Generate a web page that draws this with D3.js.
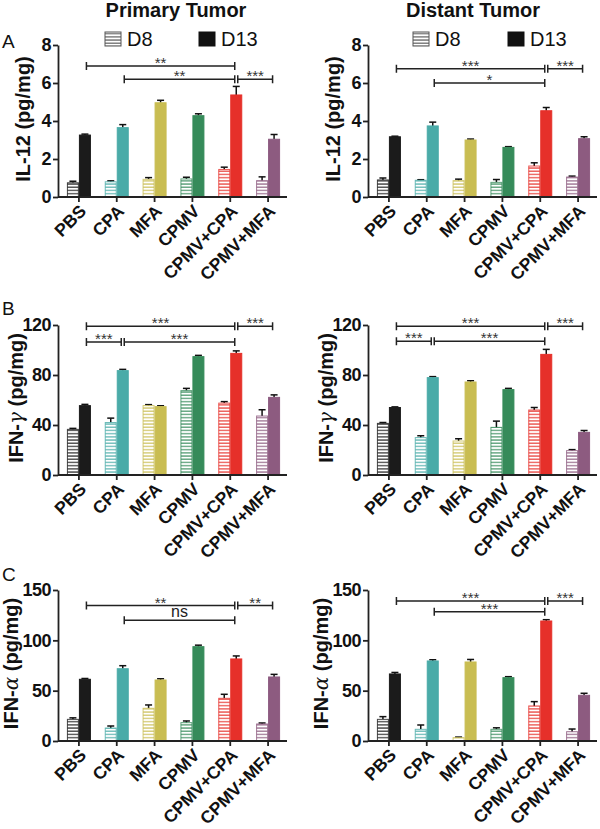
<!DOCTYPE html>
<html><head><meta charset="utf-8">
<script src="https://cdn.jsdelivr.net/npm/d3@7"></script>
<style>
body{margin:0;background:#fff;}
svg{display:block;font-family:"Liberation Sans",Arial,Helvetica,sans-serif;}
</style></head>
<body><svg id="c" width="600" height="829"></svg>
<script>
// ---------- data ----------
const categories = ["PBS","CPA","MFA","CPMV","CPMV+CPA","CPMV+MFA"];
const seriesNames = ["D8","D13"];
const groupColors = ["#1b1b1b","#4aaba8","#c9bd52","#368b5a","#e6302a","#8d5b80"];

// IL-12 primary
const il12PrimD8 = [0.75,0.80,0.93,0.95,1.45,0.86];
const il12PrimD8Err = [0.08,0.05,0.09,0.09,0.12,0.2];
const il12PrimD13 = [3.26,3.65,4.96,4.28,5.37,3.04];
const il12PrimD13Err = [0.05,0.16,0.13,0.1,0.45,0.25];
const il12PrimSig = [{from:0,to:4,level:6.9,label:"**"},{from:1,to:4,level:6.2,label:"**"},{from:4,to:5,level:6.2,label:"***"}];
// IL-12 distant
const il12DistD8 = [0.9,0.88,0.86,0.77,1.63,1.05];
const il12DistD8Err = [0.1,0.03,0.08,0.15,0.17,0.05];
const il12DistD13 = [3.17,3.74,3.0,2.61,4.54,3.07];
const il12DistD13Err = [0.03,0.2,0.05,0.04,0.17,0.1];
const il12DistSig = [{from:0,to:4,level:6.75,label:"***"},{from:1,to:4,level:6.0,label:"*"},{from:4,to:5,level:6.75,label:"***"}];
// IFN-gamma primary
const ifngPrimD8 = [36.5,42,55.5,67.5,57.5,47.2];
const ifngPrimD8Err = [0.8,3.5,0.8,1.8,1.2,5];
const ifngPrimD13 = [55.5,83.5,54.7,94.7,97.3,62.1];
const ifngPrimD13Err = [1,1,0.7,1,2,2];
const ifngPrimSig = [{from:0,to:4,level:119,label:"***"},{from:4,to:5,level:119,label:"***"},{from:0,to:1,level:106.5,label:"***"},{from:1,to:4,level:106.5,label:"***"}];
// IFN-gamma distant
const ifngDistD8 = [41.3,29.9,27.2,38.1,52,19.5];
const ifngDistD8Err = [0.7,1.5,1.8,5,2,0.8];
const ifngDistD13 = [54,77.9,74.4,68.3,96.5,34.1];
const ifngDistD13Err = [0.5,0.8,1,1,4,1.5];
const ifngDistSig = [{from:0,to:4,level:119,label:"***"},{from:4,to:5,level:119,label:"***"},{from:0,to:1,level:107,label:"***"},{from:1,to:4,level:107,label:"***"}];
// IFN-alpha primary
const ifnaPrimD8 = [21.5,12.9,32.5,18.2,42.4,16.9];
const ifnaPrimD8Err = [1.5,2,3.3,1.7,4,1];
const ifnaPrimD13 = [61.3,71.8,60.6,93.7,81.5,63.6];
const ifnaPrimD13Err = [0.8,3,1.2,1.5,3,2.6];
const ifnaPrimSig = [{from:0,to:4,level:134.5,label:"**"},{from:4,to:5,level:134.5,label:"**"},{from:1,to:4,level:120,label:"ns"}];
// IFN-alpha distant
const ifnaDistD8 = [21.5,11.6,3.3,11.6,34.8,9.2];
const ifnaDistD8Err = [2.7,4.3,0.6,1.5,4.3,2.7];
const ifnaDistD13 = [66.6,79.5,78.5,62.9,119.2,45.4];
const ifnaDistD13Err = [1.5,1.2,2.5,1,1.3,2];
const ifnaDistSig = [{from:0,to:4,level:139,label:"***"},{from:4,to:5,level:139,label:"***"},{from:1,to:4,level:128.5,label:"***"}];

const yTicksIL12 = [0,2,4,6,8];
const yTicksIFNg = [0,40,80,120];
const yTicksIFNa = [0,50,100,150];
const columnTitles = ["Primary Tumor","Distant Tumor"];
const panelLetters = ["A","B","C"];

// ---------- layout ----------
const svg = d3.select("#c");
const colX = [{axis:58, range:[60,287], ylab:30},{axis:368, range:[370,597], ylab:340}];
const rowY = [{range:[197,45], letterY:48},{range:[475,325], letterY:315},{range:[741,590], letterY:581}];

const panels = [
 {row:0,col:0,ticks:yTicksIL12,d8:il12PrimD8,d8e:il12PrimD8Err,d13:il12PrimD13,d13e:il12PrimD13Err,sig:il12PrimSig,lab:["IL-12",null],labDx:0},
 {row:0,col:1,ticks:yTicksIL12,d8:il12DistD8,d8e:il12DistD8Err,d13:il12DistD13,d13e:il12DistD13Err,sig:il12DistSig,lab:["IL-12",null],labDx:0},
 {row:1,col:0,ticks:yTicksIFNg,d8:ifngPrimD8,d8e:ifngPrimD8Err,d13:ifngPrimD13,d13e:ifngPrimD13Err,sig:ifngPrimSig,lab:["IFN-","γ"],labDx:-7},
 {row:1,col:1,ticks:yTicksIFNg,d8:ifngDistD8,d8e:ifngDistD8Err,d13:ifngDistD13,d13e:ifngDistD13Err,sig:ifngDistSig,lab:["IFN-","γ"],labDx:-7},
 {row:2,col:0,ticks:yTicksIFNa,d8:ifnaPrimD8,d8e:ifnaPrimD8Err,d13:ifnaPrimD13,d13e:ifnaPrimD13Err,sig:ifnaPrimSig,lab:["IFN-","α"],labDx:-12},
 {row:2,col:1,ticks:yTicksIFNa,d8:ifnaDistD8,d8e:ifnaDistD8Err,d13:ifnaDistD13,d13e:ifnaDistD13Err,sig:ifnaDistSig,lab:["IFN-","α"],labDx:-12}
];

// hatch patterns
const defs = svg.append("defs");
const hatchColors = groupColors.concat(["#555"]);
hatchColors.forEach((c,i)=>{
  const p = defs.append("pattern").attr("id","hatch"+i).attr("patternUnits","userSpaceOnUse")
    .attr("width",6).attr("height",3.2);
  p.append("rect").attr("width",6).attr("height",3.2).attr("fill","#fff");
  p.append("rect").attr("y",1.1).attr("width",6).attr("height",1.1).attr("fill",c);
});

const FONT = "'Liberation Sans',Arial,sans-serif";
// titles
columnTitles.forEach((t,i)=>{
  svg.append("text").attr("x",i===0?176:473).attr("y",17).attr("text-anchor","middle")
    .attr("font-size",20).attr("font-weight","bold").attr("fill","#111").text(t);
});
// panel letters
panelLetters.forEach((t,i)=>{
  svg.append("text").attr("x",2).attr("y",rowY[i].letterY).attr("font-size",19).attr("fill","#111").text(t);
});
// legends
[[105,199],[413,508]].forEach(pos=>{
  seriesNames.forEach((s,i)=>{
    const lx = pos[i];
    svg.append("rect").attr("x",lx).attr("y",32).attr("width",16).attr("height",14)
      .attr("fill", i===0?"url(#hatch6)":"#111").attr("stroke",i===0?"#555":"#111").attr("stroke-width",1);
    svg.append("text").attr("x",lx+22).attr("y",46).attr("font-size",20).attr("fill","#111").text(s);
  });
});

const barW = 12;
panels.forEach(p=>{
  const cx = colX[p.col], ry = rowY[p.row];
  const x = d3.scaleBand().domain(categories).range(cx.range).padding(0);
  const y = d3.scaleLinear().domain([0, p.ticks[p.ticks.length-1]]).range(ry.range);
  const g = svg.append("g");
  const ctr = c => x(c) + x.bandwidth()/2;

  const series = [
    {vals:p.d8, errs:p.d8e, off:-barW, hatch:true},
    {vals:p.d13, errs:p.d13e, off:0, hatch:false}
  ];
  series.forEach(s=>{
    const eg = g.append("g").attr("stroke","#111").attr("stroke-width",1.5);
    categories.forEach((c,i)=>{
      const xm = ctr(c)+s.off+barW/2;
      eg.append("line").attr("x1",xm).attr("x2",xm).attr("y1",y(s.vals[i])).attr("y2",y(s.vals[i]+s.errs[i]));
      eg.append("line").attr("x1",xm-3.5).attr("x2",xm+3.5).attr("y1",y(s.vals[i]+s.errs[i])).attr("y2",y(s.vals[i]+s.errs[i]));
    });
    g.append("g").selectAll("rect").data(categories).join("rect")
      .attr("x",c=>ctr(c)+s.off+0.5)
      .attr("width",barW-1)
      .attr("y",(c,i)=>y(s.vals[i]))
      .attr("height",(c,i)=>y(0)-y(s.vals[i]))
      .attr("fill",(c,i)=> s.hatch ? "url(#hatch"+i+")" : groupColors[i])
      .attr("stroke",(c,i)=>groupColors[i])
      .attr("stroke-opacity",(c,i)=> s.hatch?0.8:1)
      .attr("stroke-width",1);
  });

  // axes
  const yAx = g.append("g").attr("transform",`translate(${cx.axis},0)`)
    .call(d3.axisLeft(y).tickValues(p.ticks).tickSize(5).tickSizeOuter(0).tickPadding(2));
  yAx.selectAll("text").attr("font-size",18).attr("font-weight","bold").attr("fill","#111")
    .attr("font-family",FONT).attr("letter-spacing","-0.5");
  yAx.selectAll("line,path").attr("stroke","#222").attr("stroke-width",1.8);

  const xAx = g.append("g").attr("transform",`translate(0,${ry.range[0]})`)
    .call(d3.axisBottom(x).tickSize(5).tickSizeOuter(0));
  xAx.select("path.domain").attr("d",`M${cx.axis},0H${cx.range[1]}`);
  xAx.selectAll("line,path").attr("stroke","#222").attr("stroke-width",1.8);
  xAx.selectAll("text").attr("font-size",17.5).attr("font-weight","bold").attr("fill","#111")
    .attr("font-family",FONT)
    .attr("text-anchor","end").attr("x",0).attr("y",0).attr("dy","0.35em")
    .attr("transform","translate(4,11) rotate(-45)");

  // y label
  const yl = svg.append("text")
    .attr("transform",`translate(${cx.ylab+p.labDx},${(ry.range[0]+ry.range[1])/2 - 2}) rotate(-90)`)
    .attr("text-anchor","middle").attr("font-size",20).attr("font-weight","bold").attr("fill","#111");
  yl.append("tspan").text(p.lab[0]);
  if (p.lab[1]) yl.append("tspan").attr("font-family","'DejaVu Serif',serif").attr("font-style","italic")
    .attr("font-weight","normal").text(p.lab[1]);
  yl.append("tspan").text(" (pg/mg)");

  // significance brackets
  const sg = g.append("g");
  p.sig.forEach(s=>{
    const x1 = ctr(categories[s.from]) + barW/2 + 1.5;
    const x2 = ctr(categories[s.to]) + barW/2 - 1.5;
    const yy = y(s.level);
    sg.append("path").attr("d",`M${x1},${yy-4}V${yy+4}M${x1},${yy}H${x2}M${x2},${yy-4}V${yy+4}`)
      .attr("stroke","#222").attr("stroke-width",1.5).attr("fill","none");
    if (s.label==="ns") {
      sg.append("text").attr("x",(x1+x2)/2).attr("y",yy-3).attr("text-anchor","middle")
        .attr("font-size",16).attr("fill","#222").text(s.label);
    } else {
      sg.append("text").attr("x",(x1+x2)/2).attr("y",yy+2).attr("text-anchor","middle")
        .attr("font-size",15).attr("fill","#333").text(s.label);
    }
  });
});
</script></body></html>
